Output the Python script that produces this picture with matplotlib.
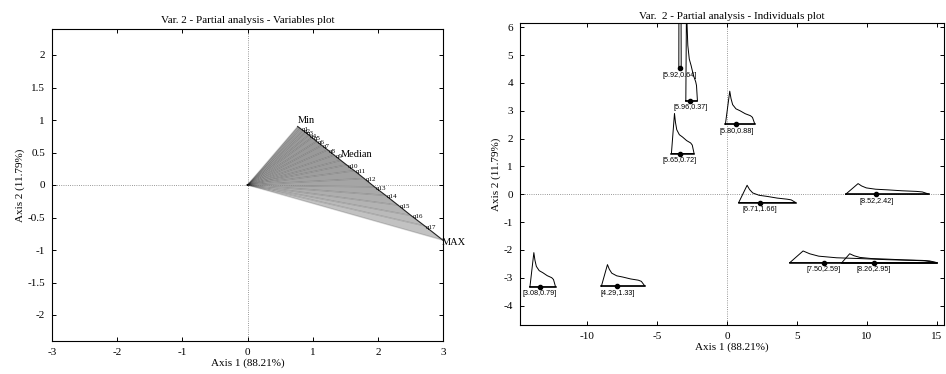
import matplotlib
matplotlib.use("Agg")
import matplotlib.pyplot as plt
import numpy as np

# ---------------- data: variables plot ----------------
var_names = ['Min', 'q1', 'q2', 'q3', 'q4', 'q5', 'q6', 'q7', 'q8', 'q9', 'Median',
             'q10', 'q11', 'q12', 'q13', 'q14', 'q15', 'q16', 'q17', 'MAX']
var_x = [0.77, 0.81, 0.85, 0.89, 0.94, 0.99, 1.06, 1.14, 1.23, 1.33, 1.43,
         1.52, 1.64, 1.79, 1.95, 2.12, 2.31, 2.51, 2.72, 3.00]
var_y = [0.90, 0.87, 0.84, 0.81, 0.77, 0.73, 0.67, 0.61, 0.54, 0.46, 0.38,
         0.31, 0.22, 0.10, -0.03, -0.16, -0.31, -0.47, -0.63, -0.85]

# ---------------- data: individuals plot ----------------
ind_labels = ['[5.92,0.64]', '[5.96,0.37]', '[5.80,0.88]', '[5.65,0.72]', '[6.71,1.66]',
              '[8.52,2.42]', '[7.50,2.59]', '[8.26,2.95]', '[3.08,0.79]', '[4.29,1.33]']
ind_dot_x = [-3.36, -2.64, 0.67, -3.38, 2.33, 10.67, 6.90, 10.50, -13.38, -7.84]
ind_base_y = [4.53, 3.35, 2.52, 1.46, -0.30, 0.00, -2.46, -2.46, -3.33, -3.30]
ind_x0 = [-3.45, -2.95, -0.12, -3.98, 0.83, 8.48, 4.48, 8.20, -14.09, -8.98]
ind_x1 = [-3.28, -2.12, 1.98, -2.36, 4.90, 14.43, 14.98, 15.00, -12.26, -5.88]
ind_xpeak = [-3.42, -2.90, 0.19, -3.76, 1.43, 9.36, 5.43, 8.76, -13.81, -8.55]
ind_hpeak = [10.0, 3.6, 1.18, 1.44, 0.62, 0.38, 0.42, 0.32, 1.23, 0.77]
ind_hshoulder = [3.0, 0.69, 0.30, 0.38, 0.12, 0.10, 0.08, 0.08, 0.33, 0.21]

# glyph shape profile (decay from the peak to the shoulder)
decay_pos = [0.0, 0.06, 0.14, 0.3, 0.5, 0.75, 1.0]
decay_val = [1.0, 0.7, 0.45, 0.28, 0.2, 0.08, 0.0]

serif = 'Liberation Serif'
fig = plt.figure(figsize=(9.46, 3.74), dpi=100)
W, H = 946, 374

def style_axes(ax):
    ax.tick_params(direction='in', top=True, right=True, length=3, width=0.7,
                   labelsize=8, pad=5)
    for lab in ax.get_xticklabels() + ax.get_yticklabels():
        lab.set_fontfamily(serif)
    for s in ax.spines.values():
        s.set_linewidth(0.8)

# ---------------- left panel ----------------
ax1 = fig.add_axes([52 / W, (H - 341) / H, (443 - 52) / W, (341 - 29) / H])
ax1.set_xlim(-3, 3)
ax1.set_ylim(-2.4, 2.4)
ax1.axhline(0, color='#777777', lw=0.6, ls=':', zorder=0)
ax1.axvline(0, color='#777777', lw=0.6, ls=':', zorder=0)
n = len(var_x)
for i in range(n - 1):
    f = i / (n - 2)
    shade = 0.62 - 0.08 * f + 0.22 * f ** 3
    ax1.fill([0, var_x[i], var_x[i + 1]], [0, var_y[i], var_y[i + 1]],
             color=str(shade), lw=0, zorder=1)
for i in range(n):
    ax1.plot([0, var_x[i]], [0, var_y[i]], color='black', alpha=0.15, lw=1.0, zorder=2)
ax1.plot(var_x, var_y, color='#222222', lw=0.8, zorder=3)
for i, name in enumerate(var_names):
    if name in ('Min', 'Median'):
        ax1.text(var_x[i], var_y[i] + 0.02, name, fontsize=7.5, family=serif,
                 ha='left', va='bottom', zorder=4)
    elif name == 'MAX':
        ax1.text(var_x[i] - 0.02, var_y[i] - 0.03, name, fontsize=7.5, family=serif,
                 ha='left', va='center', zorder=4)
    else:
        ax1.text(var_x[i] + 0.02, var_y[i] - 0.02, name, fontsize=5, family=serif,
                 ha='left', va='center', zorder=4)
ax1.set_xticks([-3, -2, -1, 0, 1, 2, 3])
ax1.set_yticks([-2, -1.5, -1, -0.5, 0, 0.5, 1, 1.5, 2])
ax1.set_yticklabels(['-2', '-1.5', '-1', '-0.5', '0', '0.5', '1', '1.5', '2'])
ax1.set_xticklabels(['-3', '-2', '-1', '0', '1', '2', '3'])
style_axes(ax1)
ax1.set_title('Var. 2 - Partial analysis - Variables plot', fontsize=8, family=serif, pad=4)
ax1.set_xlabel('Axis 1 (88.21%)', fontsize=8, family=serif, labelpad=1)
ax1.set_ylabel('Axis 2 (11.79%)', fontsize=8, family=serif, labelpad=2)

# ---------------- right panel ----------------
ax2 = fig.add_axes([520 / W, (H - 325) / H, (944 - 520) / W, (325 - 23) / H])
ax2.set_xlim(-14.8, 15.5)
ax2.set_ylim(-4.7, 6.15)
ax2.axhline(0, color='#777777', lw=0.6, ls=':', zorder=0)
ax2.axvline(0, color='#777777', lw=0.6, ls=':', zorder=0)
for k in range(len(ind_labels)):
    x0, x1, xp = ind_x0[k], ind_x1[k], ind_xpeak[k]
    b, hp, hs = ind_base_y[k], ind_hpeak[k], ind_hshoulder[k]
    w = x1 - x0
    xsh = x0 + 0.85 * w
    px = [x0, xp]
    py = [b, b + hp]
    for dp, dv in zip(decay_pos[1:], decay_val[1:]):
        px.append(xp + dp * (xsh - xp))
        py.append(b + hs + (hp - hs) * dv)
    px += [x0 + 0.92 * w, x1, x0]
    py += [b + 0.8 * hs, b, b]
    ax2.plot(px, py, color='black', lw=0.7, zorder=2)
    ax2.plot([x0, x1], [b, b], color='black', lw=1.1, zorder=2)
    ax2.plot([ind_dot_x[k]], [b], 'o', color='black', ms=3, zorder=3)
    ax2.annotate(ind_labels[k], (ind_dot_x[k], b), xytext=(0, -2.5),
                 textcoords='offset points', ha='center', va='top',
                 fontsize=5.2, family='Liberation Sans', zorder=4)
ax2.set_xticks([-10, -5, 0, 5, 10, 15])
ax2.set_xticklabels(['-10', '-5', '0', '5', '10', '15'])
ax2.set_yticks([-4, -3, -2, -1, 0, 1, 2, 3, 4, 5, 6])
ax2.set_yticklabels(['-4', '-3', '-2', '-1', '0', '1', '2', '3', '4', '5', '6'])
style_axes(ax2)
ax2.set_title('Var.  2 - Partial analysis - Individuals plot', fontsize=8, family=serif, pad=3)
ax2.set_xlabel('Axis 1 (88.21%)', fontsize=8, family=serif, labelpad=1)
ax2.set_ylabel('Axis 2 (11.79%)', fontsize=8, family=serif, labelpad=2)

fig.savefig('out.png', dpi=100)
